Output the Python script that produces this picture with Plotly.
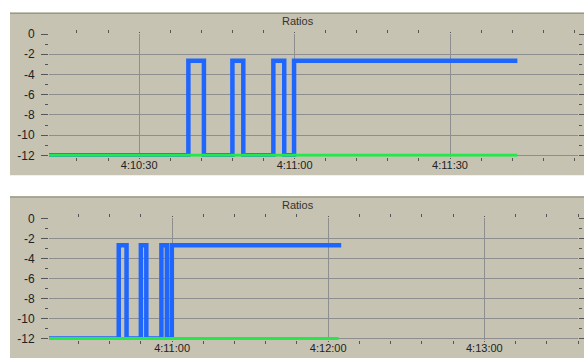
import plotly.graph_objects as go

# ---- data ----
DAY = "2000-01-01 "
# shared event times (pulses) of the Ratios stream
pulse_times = ["04:10:39.5", "04:10:42.5", "04:10:48.0", "04:10:50.1", "04:10:55.9", "04:10:58.0", "04:10:59.9"]
start_time = "04:10:12.6"
end_time_1 = "04:11:43.0"
end_time_2 = "04:12:05.0"
green_end_1 = "04:11:43.0"
green_end_2 = "04:12:04.0"
low_level = -12
high_level = -2.65

# blue step signal: low -> high -> low ... -> high (stays)
blue_levels = [low_level, high_level, low_level, high_level, low_level, high_level, low_level, high_level]

y_ticks = [0, -2, -4, -6, -8, -10, -12]
y_tick_labels = ["0", "-2", "-4", "-6", "-8", "-10", "-12"]

range_1 = ["04:10:12.6", "04:11:54.7"]
range_2 = ["04:10:12.7", "04:13:36.0"]


def step_series(end_time):
    xs = [DAY + start_time]
    ys = [blue_levels[0]]
    cur = blue_levels[0]
    for t, lvl in zip(pulse_times, blue_levels[1:]):
        xs += [DAY + t, DAY + t]
        ys += [cur, lvl]
        cur = lvl
    xs.append(DAY + end_time)
    ys.append(cur)
    return xs, ys


BLUE = "#1f66ff"
GREEN = "#22e84a"
BG = "#c6c3b2"
GRID = "#8e8e8e"
FONT = "Liberation Sans"

fig = go.Figure()

for i, (end_b, end_g) in enumerate([(end_time_1, green_end_1), (end_time_2, green_end_2)]):
    xa = "x" if i == 0 else "x2"
    ya = "y" if i == 0 else "y2"
    bx, by = step_series(end_b)
    fig.add_trace(go.Scatter(x=bx, y=by, mode="lines", xaxis=xa, yaxis=ya,
                             line=dict(color=BLUE, width=4.5), showlegend=False))
    fig.add_trace(go.Scatter(x=[DAY + start_time, DAY + end_g], y=[low_level, low_level],
                             mode="lines", xaxis=xa, yaxis=ya,
                             line=dict(color=GREEN, width=3), showlegend=False))

W, H = 584, 364
px = lambda v: v / W
py = lambda v: 1 - v / H

common_x = dict(
    type="date", showgrid=True, gridcolor=GRID, gridwidth=1, zeroline=False,
    tickformat="%-H:%M:%S", ticks="outside", ticklen=1, tickcolor="#555",
    mirror="ticks", showline=False, ticklabelstandoff=-3,
    tickfont=dict(family=FONT, size=11, color="#222"),
)
common_y = dict(
    range=[-12.15, 0.05], tickvals=y_ticks, ticktext=y_tick_labels,
    showgrid=True, gridcolor=GRID, gridwidth=1, zeroline=False,
    ticks="outside", ticklen=7, tickcolor="#555", mirror="ticks", showline=False,
    ticklabelstandoff=4,
    minor=dict(dtick=1, ticks="outside", ticklen=3, tickcolor="#555", showgrid=False),
    tickfont=dict(family=FONT, size=12, color="#222"),
)

fig.update_layout(
    width=W, height=H, margin=dict(l=0, r=0, t=0, b=0),
    paper_bgcolor="white", plot_bgcolor="#fdfdfd",
    xaxis=dict(common_x, domain=[px(49), px(578)], anchor="y",
               range=[DAY + range_1[0], DAY + range_1[1]],
               tick0=DAY + "04:10:30", dtick=30000,
               minor=dict(dtick=6000, tick0=DAY + "04:10:30", ticks="outside", ticklen=3,
                          tickcolor="#555", showgrid=False)),
    yaxis=dict(common_y, domain=[py(156), py(28.5)], anchor="x"),
    xaxis2=dict(common_x, domain=[px(49), px(578)], anchor="y2",
                range=[DAY + range_2[0], DAY + range_2[1]],
                tick0=DAY + "04:11:00", dtick=60000,
                minor=dict(dtick=12000, tick0=DAY + "04:11:00", ticks="outside", ticklen=3,
                           tickcolor="#555", showgrid=False)),
    yaxis2=dict(common_y, domain=[py(345.5), py(219.5)], anchor="x2"),
    shapes=[
        dict(type="rect", xref="paper", yref="paper", x0=px(10), x1=1, y0=py(175), y1=py(7),
             fillcolor=BG, line=dict(width=0), layer="below"),
        dict(type="line", xref="paper", yref="paper", x0=px(10), x1=1, y0=py(7.5), y1=py(7.5),
             line=dict(color="#9a9886", width=1.5), layer="below"),
        dict(type="rect", xref="paper", yref="paper", x0=px(10), x1=1, y0=0, y1=py(197),
             fillcolor=BG, line=dict(width=0), layer="below"),
        dict(type="line", xref="paper", yref="paper", x0=px(10), x1=1, y0=py(197.5), y1=py(197.5),
             line=dict(color="#9a9886", width=1.5), layer="below"),
    ],
    annotations=[
        dict(text="Ratios", xref="paper", yref="paper", x=px(298), y=py(15), showarrow=False,
             xanchor="center", yanchor="middle",
             font=dict(family=FONT, size=11, color="#333")),
        dict(text="Ratios", xref="paper", yref="paper", x=px(298), y=py(206), showarrow=False,
             xanchor="center", yanchor="middle",
             font=dict(family=FONT, size=11, color="#333")),
    ],
)

fig.write_html(
    "out.html",
    config={"displayModeBar": False},
    post_script="document.body.style.margin='0';document.body.style.padding='0';"
                "document.body.style.overflow='hidden';",
)
